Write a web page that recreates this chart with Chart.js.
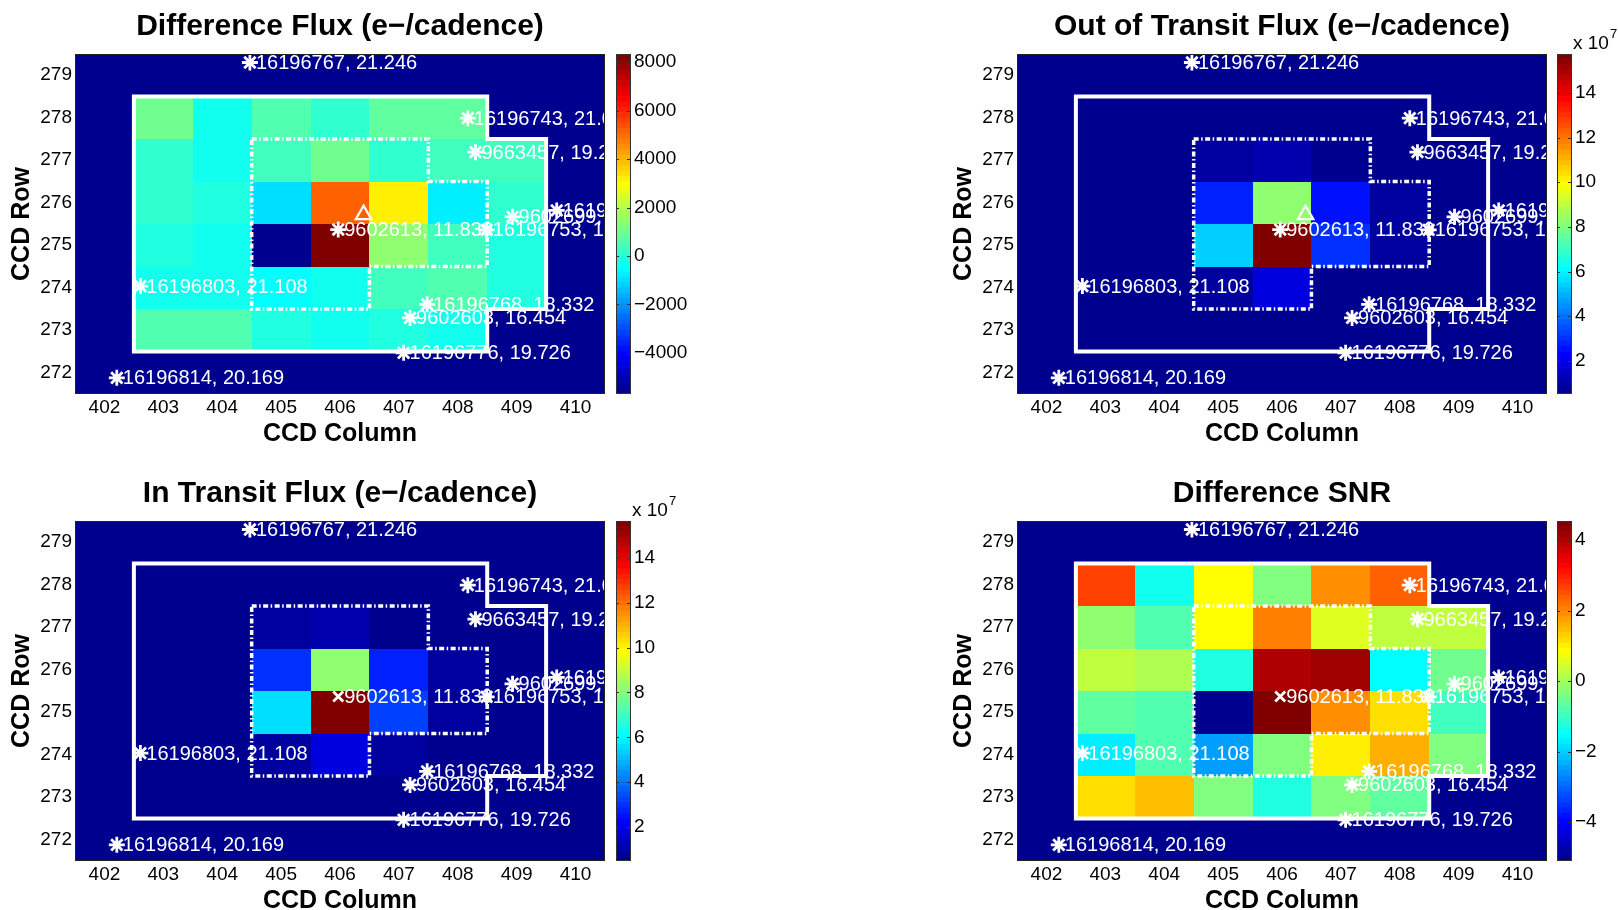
<!DOCTYPE html>
<html>
<head>
<meta charset="utf-8">
<title>Difference image</title>
<script src="https://cdn.jsdelivr.net/npm/chart.js@4.4.1/dist/chart.umd.min.js"></script>
<style>
  html, body { margin: 0; padding: 0; background: #fff; overflow: hidden; }
  body { width: 1618px; height: 910px; position: relative; }
  canvas { position: absolute; }
</style>
</head>
<body>
<canvas id="heat1" width="680" height="450" style="left:0px;top:0px"></canvas>
<canvas id="heat2" width="680" height="450" style="left:942px;top:0px"></canvas>
<canvas id="heat3" width="680" height="450" style="left:0px;top:467px"></canvas>
<canvas id="heat4" width="680" height="450" style="left:942px;top:467px"></canvas>
<canvas id="cb1" width="80" height="385" style="left:616px;top:24px"></canvas>
<canvas id="cb2" width="80" height="385" style="left:1557px;top:24px"></canvas>
<canvas id="cb3" width="80" height="385" style="left:616px;top:491px"></canvas>
<canvas id="cb4" width="80" height="385" style="left:1557px;top:491px"></canvas>
<script>
const NA = null;

// pixel grid: rows top to bottom, columns left to right
const cols = [402, 403, 404, 405, 406, 407, 408, 409, 410];
const rows = [279, 278, 277, 276, 275, 274, 273, 272];
const rowTicks = [272, 273, 274, 275, 276, 277, 278, 279];

// difference flux (e-/cadence)
const diffFlux = [
  [NA, NA, NA, NA, NA, NA, NA, NA, NA],
  [NA, 970, -220, 480, 60, 760, 760, NA, NA],
  [NA, 60, -220, 340, 1040, 200, 260, 250, NA],
  [NA, 200, -80, -930, 5250, 3200, -790, 200, NA],
  [NA, -80, -220, -5700, 8340, 1400, 340, -80, NA],
  [NA, -220, -220, -650, -220, 340, 620, -80, NA],
  [NA, 480, 480, -80, -220, -80, -220, NA, NA],
  [NA, NA, NA, NA, NA, NA, NA, NA, NA]
];

// out of transit flux (e-/cadence)
const outFlux = [
  [NA, NA, NA, NA, NA, NA, NA, NA, NA],
  [NA, 0.60e7, 0.58e7, 0.62e7, 0.66e7, 0.63e7, 0.58e7, NA, NA],
  [NA, 0.60e7, 0.65e7, 0.78e7, 1.05e7, 0.70e7, 0.62e7, 0.55e7, NA],
  [NA, 0.60e7, 0.68e7, 2.89e7, 8.35e7, 2.66e7, 0.84e7, 0.58e7, NA],
  [NA, 0.60e7, 0.70e7, 5.45e7, 15.74e7, 3.13e7, 0.86e7, 0.62e7, NA],
  [NA, 0.58e7, 0.62e7, 0.80e7, 1.84e7, 0.74e7, 0.70e7, 0.60e7, NA],
  [NA, 0.52e7, 0.57e7, 0.62e7, 0.70e7, 0.66e7, 0.58e7, NA, NA],
  [NA, NA, NA, NA, NA, NA, NA, NA, NA]
];

// in transit flux (e-/cadence)
const inFlux = [
  [NA, NA, NA, NA, NA, NA, NA, NA, NA],
  [NA, 0.59e7, 0.58e7, 0.61e7, 0.66e7, 0.62e7, 0.57e7, NA, NA],
  [NA, 0.60e7, 0.65e7, 0.78e7, 1.04e7, 0.70e7, 0.61e7, 0.55e7, NA],
  [NA, 0.60e7, 0.68e7, 2.90e7, 8.30e7, 2.63e7, 0.84e7, 0.58e7, NA],
  [NA, 0.60e7, 0.70e7, 5.50e7, 15.64e7, 3.12e7, 0.86e7, 0.62e7, NA],
  [NA, 0.58e7, 0.62e7, 0.80e7, 1.84e7, 0.74e7, 0.69e7, 0.60e7, NA],
  [NA, 0.49e7, 0.56e7, 0.62e7, 0.70e7, 0.66e7, 0.58e7, NA, NA],
  [NA, NA, NA, NA, NA, NA, NA, NA, NA]
];

// difference SNR
const diffSnr = [
  [NA, NA, NA, NA, NA, NA, NA, NA, NA],
  [NA, 2.73, -1.34, 0.78, -0.42, 1.97, 2.43, NA, NA],
  [NA, -0.13, -0.88, 0.78, 2.05, 0.48, 0.18, 0.20, NA],
  [NA, 0.32, 0.03, -1.19, 3.94, 4.23, -1.49, -0.58, NA],
  [NA, -0.73, -0.75, -5.10, 4.54, 1.89, 1.21, -1.03, NA],
  [NA, -1.71, -0.88, -2.53, -0.42, 0.93, 1.65, -0.28, NA],
  [NA, 1.14, 1.52, -0.42, -1.19, -0.40, -0.73, NA, NA],
  [NA, NA, NA, NA, NA, NA, NA, NA, NA]
];

// colorbar ticks
const diffTicks = [-4000, -2000, 0, 2000, 4000, 6000, 8000];
const fluxTicks = [2e7, 4e7, 6e7, 8e7, 10e7, 12e7, 14e7];
const snrTicks = [-4, -2, 0, 2, 4];

// aperture outlines (column, row)
const maskCol = [402.5, 408.5, 408.5, 409.5, 409.5, 408.5, 408.5, 402.5, 402.5];
const maskRow = [278.5, 278.5, 277.5, 277.5, 273.5, 273.5, 272.5, 272.5, 278.5];
const optCol = [404.5, 407.5, 407.5, 408.5, 408.5, 406.5, 406.5, 404.5, 404.5];
const optRow = [277.5, 277.5, 276.5, 276.5, 274.5, 274.5, 273.5, 273.5, 277.5];

// catalog stars
const starCols = [404.47, 408.17, 408.30, 409.68, 408.93, 405.97, 408.49, 402.61, 407.48, 407.19, 407.08, 402.21];
const starRows = [279.30, 277.99, 277.19, 275.82, 275.67, 275.37, 275.36, 274.04, 273.61, 273.29, 272.47, 271.88];
const starLabels = ['16196767, 21.246', '16196743, 21.018', '9663457, 19.271', '16196741, 20.512',
  '9602699, 18.903', '9602613, 11.839', '16196753, 19.577', '16196803, 21.108',
  '16196768, 18.332', '9602603, 16.454', '16196776, 19.726', '16196814, 20.169'];
const targetIndex = 5;

// flux-weighted centroid
const centroidCol = [406.40];
const centroidRow = [275.72];

Chart.defaults.font.family = '"Liberation Sans", Arial, Helvetica, sans-serif';
Chart.defaults.color = '#000';
Chart.defaults.animation = false;

// MATLAB style jet(64)
function jet(t) {
  const c = v => Math.round(255 * Math.min(1, Math.max(0, v)));
  return 'rgb(' + c(1.5 - Math.abs(4 * t - 3)) + ',' + c(1.5 - Math.abs(4 * t - 2)) + ',' + c(1.5 - Math.abs(4 * t - 1)) + ')';
}
const cmap = [];
for (let i = 0; i < 64; i++) cmap.push(jet((i + 1) / 64));

function dataRange(values) {
  const flat = values.flat().filter(v => v !== null);
  return [Math.min(...flat), Math.max(...flat)];
}

function minusFmt(v) {
  return v < 0 ? '\u2212' + Math.abs(v) : String(v);
}

function heatLayer(values, range) {
  return {
    id: 'heat',
    beforeDatasetsDraw(chart) {
      const { ctx, scales: { x, y } } = chart;
      const [lo, hi] = range;
      ctx.save();
      rows.forEach((r, i) => {
        cols.forEach((c, j) => {
          const v = values[i][j];
          const k = v === null ? 0 : Math.min(63, Math.floor((v - lo) / (hi - lo) * 64));
          const x0 = Math.round(x.getPixelForValue(c - 0.5));
          const x1 = Math.round(x.getPixelForValue(c + 0.5));
          const y0 = Math.round(y.getPixelForValue(r + 0.5));
          const y1 = Math.round(y.getPixelForValue(r - 0.5));
          ctx.fillStyle = cmap[k];
          ctx.fillRect(x0, y0, x1 - x0, y1 - y0);
        });
      });
      ctx.restore();
    }
  };
}

const starText = {
  id: 'starText',
  afterDatasetsDraw(chart) {
    const { ctx, chartArea: a, scales: { x, y } } = chart;
    ctx.save();
    ctx.beginPath();
    ctx.rect(a.left, a.top, a.right - a.left, a.bottom - a.top);
    ctx.clip();
    ctx.font = '20px "Liberation Sans", Arial, sans-serif';
    ctx.fillStyle = '#fff';
    ctx.textBaseline = 'middle';
    ctx.textAlign = 'left';
    starLabels.forEach((s, i) => {
      ctx.fillText(s, x.getPixelForValue(starCols[i]) + 6, y.getPixelForValue(starRows[i]) + 1);
    });
    ctx.restore();
  },
  afterDraw(chart) {
    const { ctx, chartArea: a } = chart;
    ctx.save();
    ctx.strokeStyle = '#222';
    ctx.lineWidth = 1;
    ctx.strokeRect(a.left + 0.5, a.top + 0.5, a.right - a.left - 1, a.bottom - a.top - 1);
    ctx.restore();
  }
};

function pts(xs, ys) {
  return xs.map((v, i) => ({ x: v, y: ys[i] }));
}

function makeHeat(id, title, values, targetStyle, showCentroid) {
  const range = dataRange(values);
  const others = pts(starCols, starRows).filter((p, i) => i !== targetIndex);
  const target = [{ x: starCols[targetIndex], y: starRows[targetIndex] }];
  const datasets = [
    { data: others, pointStyle: 'star', pointRadius: 8, borderColor: '#fff', borderWidth: 2.8 },
    { data: target, pointStyle: targetStyle, pointRadius: targetStyle === 'star' ? 8 : 7,
      borderColor: '#fff', borderWidth: 2.8 },
    { data: pts(optCol, optRow), showLine: true, pointRadius: 0, borderColor: '#fff',
      borderWidth: 3.5, borderDash: [5, 2.5, 1.5, 2.5], fill: false },
    { data: pts(maskCol, maskRow), showLine: true, pointRadius: 0, borderColor: '#fff',
      borderWidth: 4, borderCapStyle: 'square', borderJoinStyle: 'miter', fill: false }
  ];
  if (showCentroid) {
    datasets.unshift({ data: pts(centroidCol, centroidRow), pointStyle: 'triangle', pointRadius: 9,
      borderColor: '#fff', backgroundColor: 'rgba(0,0,0,0)', borderWidth: 2.2 });
  }
  return new Chart(document.getElementById(id), {
    type: 'scatter',
    data: { datasets },
    options: {
      responsive: false,
      devicePixelRatio: 1,
      animation: false,
      events: [],
      layout: { padding: { left: 0, right: 75, top: 0, bottom: 0 } },
      plugins: {
        legend: { display: false },
        tooltip: { enabled: false },
        title: {
          display: true, text: title, color: '#000', fullSize: false,
          font: { size: 30, weight: 'bold' },
          padding: { top: 9, bottom: 9 }
        }
      },
      scales: {
        x: {
          type: 'linear', min: 401.5, max: 410.5,
          grid: { display: false, drawTicks: false },
          border: { display: false },
          ticks: { font: { size: 19 }, padding: 2, color: '#000' },
          afterBuildTicks: s => { s.ticks = cols.map(v => ({ value: v })); },
          afterFit: s => { s.height = 56; },
          title: { display: true, text: 'CCD Column', color: '#000', font: { size: 25, weight: 'bold' }, padding: { top: 0, bottom: 1 } }
        },
        y: {
          type: 'linear', min: 271.5, max: 279.5,
          grid: { display: false, drawTicks: false },
          border: { display: false },
          ticks: { font: { size: 19 }, padding: 3, color: '#000' },
          afterBuildTicks: s => { s.ticks = rowTicks.map(v => ({ value: v })); },
          afterFit: s => { s.width = 75; },
          title: { display: true, text: 'CCD Row', color: '#000', font: { size: 25, weight: 'bold' }, padding: { top: 7, bottom: 0 } }
        }
      }
    },
    plugins: [heatLayer(values, range), starText]
  });
}

function cbDecor(exponent) {
  return {
    id: 'cbDecor',
    afterDraw(chart) {
      const { ctx, chartArea: a, scales: { y } } = chart;
      ctx.save();
      ctx.strokeStyle = '#333';
      ctx.lineWidth = 1;
      ctx.strokeRect(a.left + 0.5, a.top + 0.5, a.right - a.left - 1, a.bottom - a.top - 1);
      ctx.beginPath();
      y.ticks.forEach(t => {
        const py = Math.round(y.getPixelForValue(t.value)) + 0.5;
        ctx.moveTo(a.right - 4, py);
        ctx.lineTo(a.right, py);
        ctx.moveTo(a.left, py);
        ctx.lineTo(a.left + 3, py);
      });
      ctx.stroke();
      if (exponent) {
        ctx.fillStyle = '#000';
        ctx.textBaseline = 'middle';
        ctx.textAlign = 'left';
        ctx.font = '19px "Liberation Sans", Arial, sans-serif';
        ctx.fillText('x 10', a.right + 1, a.top - 10);
        const w = ctx.measureText('x 10').width;
        ctx.font = '13px "Liberation Sans", Arial, sans-serif';
        ctx.fillText(exponent, a.right + 2 + w, a.top - 20);
      }
      ctx.restore();
    }
  };
}

function makeColorbar(id, values, tickVals, fmt, exponent) {
  const [lo, hi] = dataRange(values);
  const step = (hi - lo) / 64;
  const datasets = cmap.map((c, i) => ({
    data: [[lo + i * step, lo + (i + 1) * step]],
    backgroundColor: c,
    borderWidth: 0,
    barPercentage: 1,
    categoryPercentage: 1
  }));
  return new Chart(document.getElementById(id), {
    type: 'bar',
    data: { labels: [''], datasets },
    options: {
      responsive: false,
      devicePixelRatio: 1,
      animation: false,
      events: [],
      layout: { padding: { left: 0, right: 0, top: 30, bottom: 15 } },
      plugins: { legend: { display: false }, tooltip: { enabled: false } },
      scales: {
        x: { display: false, stacked: true },
        y: {
          position: 'right', min: lo, max: hi,
          grid: { display: false, drawTicks: false },
          border: { display: false },
          ticks: { font: { size: 19 }, padding: 3, color: '#000', callback: fmt },
          afterBuildTicks: s => { s.ticks = tickVals.map(v => ({ value: v })); },
          afterFit: s => { s.width = 65; }
        }
      }
    },
    plugins: [cbDecor(exponent)]
  });
}

makeHeat('heat1', 'Difference Flux (e\u2212/cadence)', diffFlux, 'star', true);
makeHeat('heat2', 'Out of Transit Flux (e\u2212/cadence)', outFlux, 'star', true);
makeHeat('heat3', 'In Transit Flux (e\u2212/cadence)', inFlux, 'crossRot', false);
makeHeat('heat4', 'Difference SNR', diffSnr, 'crossRot', false);

makeColorbar('cb1', diffFlux, diffTicks, v => minusFmt(v), null);
makeColorbar('cb2', outFlux, fluxTicks, v => String(Math.round(v / 1e7)), '7');
makeColorbar('cb3', inFlux, fluxTicks, v => String(Math.round(v / 1e7)), '7');
makeColorbar('cb4', diffSnr, snrTicks, v => minusFmt(v), null);
</script>
</body>
</html>
